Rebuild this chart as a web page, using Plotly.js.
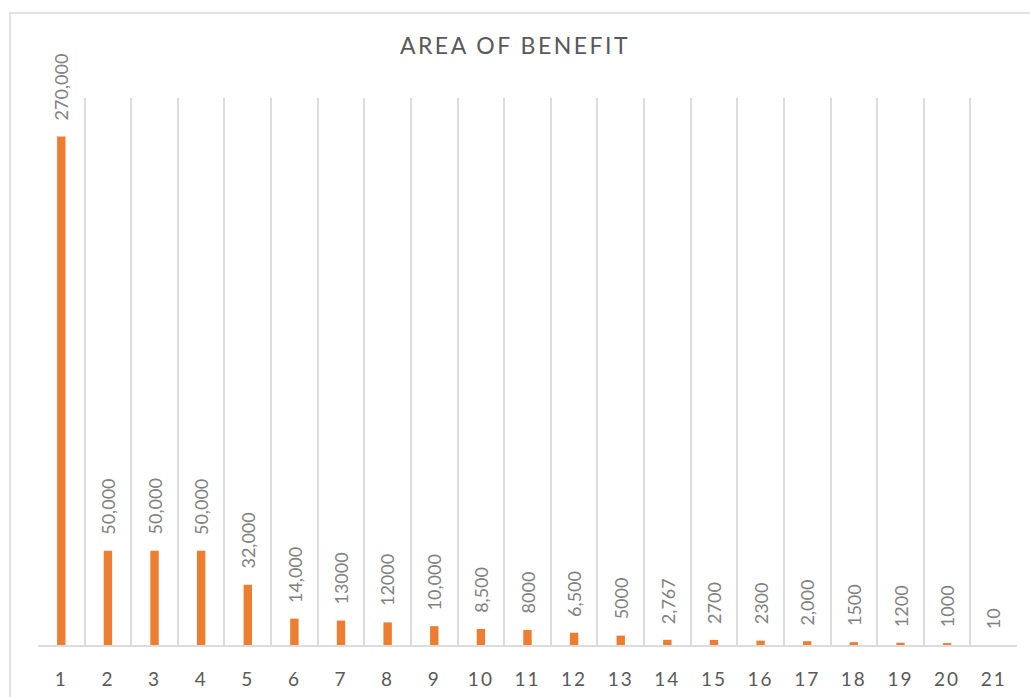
<!DOCTYPE html>
<html>
<head>
<meta charset="utf-8">
<script src="https://cdn.plot.ly/plotly-3.0.1.min.js"></script>
<style>
  html, body { margin: 0; padding: 0; background: #fff; }
  #chart { width: 1030px; height: 697px; }
  .gtitle { letter-spacing: 2.5px; }
  .xtick text { letter-spacing: 2px; }
</style>
</head>
<body>
<div id="chart"></div>
<script>
// Categories along the x axis
const categories = ['1','2','3','4','5','6','7','8','9','10','11','12','13','14','15','16','17','18','19','20','21'];
// Benefit values per category
const benefitValues = [270000, 50000, 50000, 50000, 32000, 14000, 13000, 12000, 10000, 8500, 8000, 6500, 5000, 2767, 2700, 2300, 2000, 1500, 1200, 1000, 10];
// Value labels as written above each bar
const valueLabels = ['270,000','50,000','50,000','50,000','32,000','14,000','13000','12000','10,000','8,500','8000','6,500','5000','2,767','2700','2300','2,000','1500','1200','1000','10'];

const barTrace = {
  type: 'bar',
  x: categories,
  y: benefitValues,
  marker: { color: '#ED7D31' },
  hoverinfo: 'x+y'
};

// Rotated value labels, placed by category index so numeric-looking names are not misread
const labelAnnotations = categories.map((c, i) => ({
  x: i,
  y: benefitValues[i],
  xref: 'x',
  yref: 'y',
  text: valueLabels[i],
  showarrow: false,
  textangle: -90,
  xanchor: 'center',
  yanchor: 'bottom',
  yshift: 14,
  font: { family: 'Lato, "Open Sans", sans-serif', size: 18, color: '#808080' }
}));

const layout = {
  width: 1030,
  height: 697,
  margin: { l: 38, r: 13, t: 98, b: 52 },
  paper_bgcolor: '#ffffff',
  plot_bgcolor: '#ffffff',
  showlegend: false,
  bargap: 0.82,
  title: {
    text: 'AREA OF BENEFIT',
    x: 0.5,
    xanchor: 'center',
    y: 0.934,
    yanchor: 'middle',
    font: { family: 'Lato, "Open Sans", sans-serif', size: 23, color: '#595959' }
  },
  xaxis: {
    type: 'category',
    range: [-0.5, categories.length - 0.5],
    tickson: 'boundaries',
    showgrid: true,
    gridcolor: '#dcdcdc',
    gridwidth: 2,
    showline: true,
    linecolor: '#dcdcdc',
    linewidth: 2,
    ticks: '',
    ticklabelstandoff: 16,
    tickfont: { family: 'Lato, "Open Sans", sans-serif', size: 19, color: '#595959' },
    fixedrange: true
  },
  yaxis: {
    range: [0, 290500],
    showgrid: false,
    zeroline: false,
    showline: false,
    showticklabels: false,
    ticks: '',
    fixedrange: true
  },
  annotations: labelAnnotations,
  shapes: [{
    type: 'rect',
    xref: 'paper',
    yref: 'paper',
    x0: -0.0286,
    x1: 1.1,
    y0: -0.3,
    y1: 1.1554,
    line: { color: '#d9d9d9', width: 1.5 },
    fillcolor: 'rgba(0,0,0,0)',
    layer: 'below'
  }]
};

Plotly.newPlot('chart', [barTrace], layout, { displayModeBar: false, staticPlot: true });
</script>
</body>
</html>
